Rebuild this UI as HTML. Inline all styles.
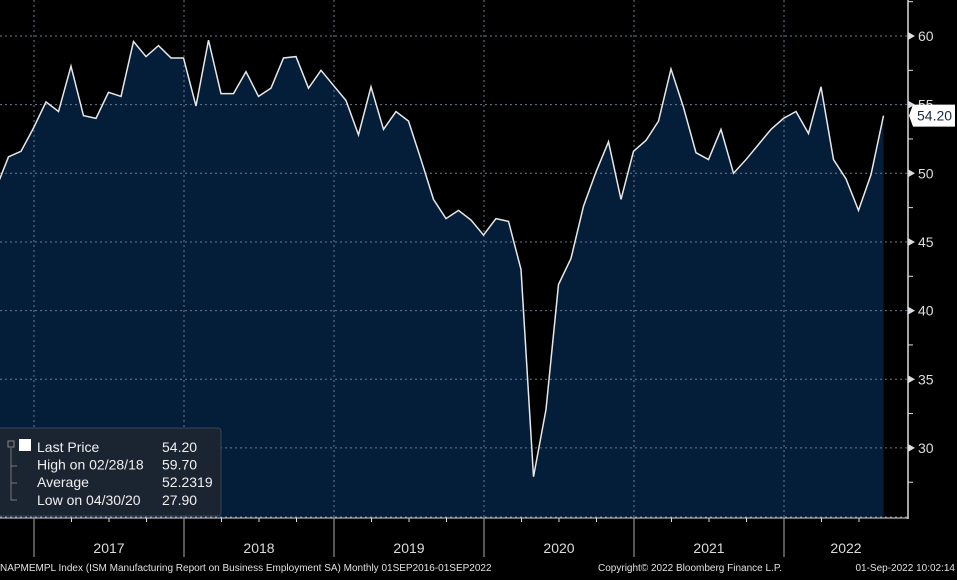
<!DOCTYPE html>
<html><head><meta charset="utf-8"><style>
body{margin:0;background:#000;width:957px;height:575px;overflow:hidden;font-family:"Liberation Sans",sans-serif}
svg text{font-family:"Liberation Sans",sans-serif}
</style></head><body>
<svg id="chart" width="957" height="575" xmlns="http://www.w3.org/2000/svg"></svg>
<script>
const months = ["2016-09","2016-10","2016-11","2016-12","2017-01","2017-02","2017-03","2017-04","2017-05","2017-06","2017-07","2017-08","2017-09","2017-10","2017-11","2017-12","2018-01","2018-02","2018-03","2018-04","2018-05","2018-06","2018-07","2018-08","2018-09","2018-10","2018-11","2018-12","2019-01","2019-02","2019-03","2019-04","2019-05","2019-06","2019-07","2019-08","2019-09","2019-10","2019-11","2019-12","2020-01","2020-02","2020-03","2020-04","2020-05","2020-06","2020-07","2020-08","2020-09","2020-10","2020-11","2020-12","2021-01","2021-02","2021-03","2021-04","2021-05","2021-06","2021-07","2021-08","2021-09","2021-10","2021-11","2021-12","2022-01","2022-02","2022-03","2022-04","2022-05","2022-06","2022-07","2022-08"];
const values = [48.9,51.2,51.6,53.3,55.2,54.5,57.8,54.2,54.0,55.9,55.6,59.6,58.5,59.3,58.4,58.4,54.9,59.7,55.8,55.8,57.4,55.6,56.2,58.4,58.5,56.2,57.5,56.4,55.3,52.8,56.3,53.2,54.5,53.8,51.0,48.1,46.7,47.3,46.6,45.5,46.7,46.5,43.0,27.9,32.8,41.9,43.8,47.6,50.1,52.3,48.1,51.6,52.4,53.8,57.6,54.8,51.5,51.0,53.2,50.0,51.0,52.1,53.2,54.0,54.5,52.9,56.3,51.0,49.6,47.3,49.9,54.2];
const yTicks = [30,35,40,45,50,55,60];
const years = ["2017","2018","2019","2020","2021","2022"];
const legendLabels = ["Last Price","High on 02/28/18","Average","Low on 04/30/20"];
const legendValues = ["54.20","59.70","52.2319","27.90"];
const lastLabel = "54.20";

const NS="http://www.w3.org/2000/svg";
const svg=document.getElementById('chart');
const PB=517, AX=908;
function x(i){return 8.5+12.5*(i-1);} // i=0 is Sep 2016 month-end
function y(v){return 36+(60-v)*13.73;}
function el(t,a,p){const e=document.createElementNS(NS,t);for(const k in a)e.setAttribute(k,a[k]);(p||svg).appendChild(e);return e;}

// area
let d=`M${x(0)},${PB}`;values.forEach((v,i)=>d+=` L${x(i)},${y(v)}`);d+=` L${x(values.length-1)},${PB} Z`;
const area=el('path',{d:d,fill:'#041e3a'});



// grid
yTicks.forEach(t=>{const g=el('line',{x1:0,x2:AX,y1:y(t),y2:y(t),stroke:'#6a7a8c','stroke-width':1,'stroke-dasharray':'2,3'});

});
years.forEach((yr,j)=>{const gx=34+150*j;const g=el('line',{x1:gx,x2:gx,y1:0,y2:PB,stroke:'#6a7a8c','stroke-width':1,'stroke-dasharray':'2,3'});

});
el('line',{x1:0,x2:AX,y1:PB,y2:PB,stroke:'#6a7a8c','stroke-width':1,'stroke-dasharray':'2,3'});

// line
let ld='';values.forEach((v,i)=>ld+=(i?' L':'M')+x(i)+','+y(v));
const line=el('path',{d:ld,fill:'none',stroke:'#e8e8e8','stroke-width':1.5});



// right axis
el('line',{x1:AX,x2:AX,y1:0,y2:PB+2,stroke:'#ddd','stroke-width':1.5});
for(let v=27.5;v<=62.5;v+=2.5){el('line',{x1:AX,x2:AX+5,y1:y(v),y2:y(v),stroke:'#ddd'});}
yTicks.forEach(t=>{el('path',{d:`M${AX},${y(t)-4} L${AX+7},${y(t)} L${AX},${y(t)+4}Z`,fill:'#ddd'});
const tx=el('text',{x:AX+10,y:y(t)+5,fill:'#dcdcdc','font-size':14});tx.textContent=t;

});
// last price tag
const lv=parseFloat(lastLabel),ly=y(lv);
el('path',{d:`M${AX+1},${ly} L${AX+5},${ly-11} L955,${ly-11} L955,${ly+11} L${AX+5},${ly+11}Z`,fill:'#fff'});
const lt=el('text',{x:917,y:ly+5,fill:'#1a2a44','font-size':14});lt.textContent=lastLabel;



// bottom axis
el('line',{x1:0,x2:AX,y1:PB+1,y2:PB+1,stroke:'#ddd','stroke-width':1});
for(let m=0;m<72;m+=3){const tx=34+12.5*(m-3);if(tx>0&&tx<AX)el('line',{x1:tx,x2:tx,y1:PB+1,y2:PB+5,stroke:'#ddd'});}
years.forEach((yr,j)=>{const sx=34+150*j;el('line',{x1:sx,x2:sx,y1:PB+1,y2:557,stroke:'#aaa'});
const t=el('text',{x:Math.min(sx+75,846),y:553,fill:'#dcdcdc','font-size':14,'text-anchor':'middle'});t.textContent=yr;

});

// legend
const lg=el('g',{});


el('rect',{x:-2,y:428,width:223,height:88,rx:3,fill:'#1b2431',stroke:'#3a4656'},lg);
el('rect',{x:19,y:439,width:12,height:12,fill:'#fff'},lg);
el('rect',{x:8,y:441,width:6,height:6,fill:'none',stroke:'#888'},lg);
el('path',{d:'M11,448 V500 H17 M11,466 H17 M11,483 H17',stroke:'#777',fill:'none'},lg);
legendLabels.forEach((l,i)=>{const yy=452+17.6*i;
const a=el('text',{x:37,y:yy,fill:'#f0f0f0','font-size':14},lg);a.textContent=l;


const b=el('text',{x:162,y:yy,fill:'#f0f0f0','font-size':14},lg);b.textContent=legendValues[i];

});

// footer
[["NAPMEMPL Index (ISM Manufacturing Report on Business Employment SA)  Monthly 01SEP2016-01SEP2022",0,"start"],["Copyright© 2022 Bloomberg Finance L.P.",690,"middle"],["01-Sep-2022 10:02:14",955,"end"]].forEach(f=>{
const t=el('text',{x:f[1],y:571,fill:'#e0e0e0','font-size':10,'text-anchor':f[2]});t.textContent=f[0];

});
</script>
</body></html>
